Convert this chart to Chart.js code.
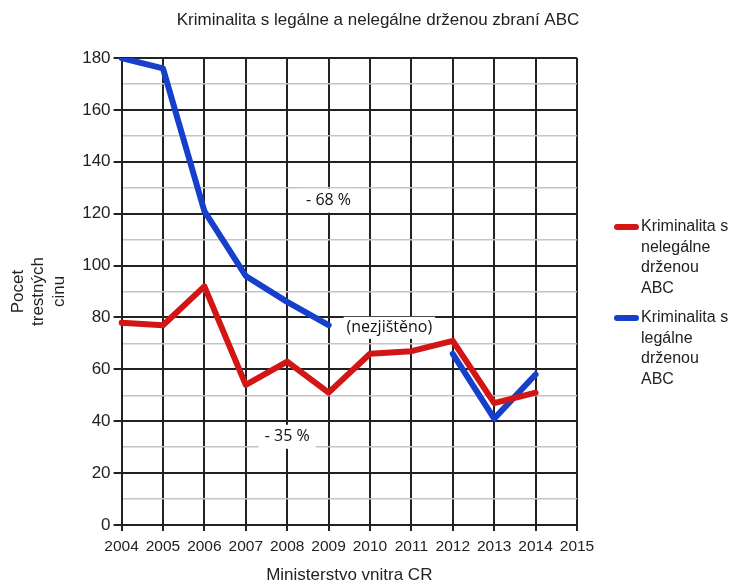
<!DOCTYPE html>
<html>
<head>
<meta charset="utf-8">
<script src="https://cdn.jsdelivr.net/npm/chart.js@4"></script>
<style>
  html, body { margin: 0; padding: 0; background: #fff; }
  #wrap { width: 736px; height: 584px; }
</style>
</head>
<body>
<div id="wrap"><canvas id="chart" width="736" height="584"></canvas></div>
<script>
// Roky na ose x
const years = ['2004', '2005', '2006', '2007', '2008', '2009', '2010', '2011', '2012', '2013', '2014', '2015'];

// Kriminalita s nelegálne drženou ABC
const illegalValues = [78, 77, 92, 54, 63, 51, 66, 67, 71, 47, 51, null];
// Kriminalita s legálne drženou ABC (2010-2011 nezjištěno)
const legalValues = [180, 176, 121, 96, 86, 77, null, null, 66, 41, 58, null];

const seriesNames = [
    ['Kriminalita s', 'nelegálne', 'drženou', 'ABC'],
    ['Kriminalita s', 'legálne', 'drženou', 'ABC']
];
const seriesColors = ['#d21616', '#1640cc'];

const chartTitle = 'Kriminalita s legálne a nelegálne drženou zbraní ABC';

// Popisky v grafu: [text, rok, hodnota]
const notes = [
    ['- 68 %', '2009', 125],
    ['- 35 %', '2008', 34],
];
const missingNote = ['(nezjištěno)', '2009', 76];

const textFont = '"Liberation Sans", Arial, sans-serif';
const noteFont = '"Open Sans", "Noto Sans", sans-serif';

// Nadpis přes celou šířku obrázku
const titlePlugin = {
    id: 'wideTitle',
    afterDraw(chart) {
        const ctx = chart.ctx;
        ctx.save();
        ctx.font = '17px ' + textFont;
        ctx.fillStyle = '#222';
        ctx.textAlign = 'center';
        ctx.textBaseline = 'middle';
        ctx.fillText(chartTitle, 378, 20);
        ctx.restore();
    }
};

// Popisky -68 % a -35 % s bílým pozadím
const notesPlugin = {
    id: 'notes',
    beforeDatasetsDraw(chart) {
        const ctx = chart.ctx;
        const x = chart.scales.x, y = chart.scales.y;
        ctx.save();
        ctx.font = '16px ' + noteFont;
        ctx.textAlign = 'center';
        ctx.textBaseline = 'middle';
        notes.forEach(n => {
            const px = x.getPixelForValue(x.getLabels().indexOf(n[1]));
            const py = y.getPixelForValue(n[2]);
            const w = ctx.measureText(n[0]).width + 12;
            ctx.fillStyle = '#fff';
            ctx.fillRect(px - w / 2, py - 12, w, 24);
            ctx.fillStyle = '#111';
            ctx.fillText(n[0], px, py);
        });
        ctx.restore();
    },
    afterDatasetsDraw(chart) {
        const ctx = chart.ctx;
        const x = chart.scales.x, y = chart.scales.y;
        ctx.save();
        ctx.font = '16px ' + noteFont;
        ctx.textAlign = 'left';
        ctx.textBaseline = 'middle';
        const px = x.getPixelForValue(x.getLabels().indexOf(missingNote[1])) + 18;
        const py = y.getPixelForValue(missingNote[2]);
        const w = ctx.measureText(missingNote[0]).width;
        ctx.fillStyle = '#fff';
        ctx.fillRect(px - 3, py - 11, w + 6, 22);
        ctx.fillStyle = '#111';
        ctx.fillText(missingNote[0], px, py);
        ctx.restore();
    }
};

// Legenda vpravo, víceřádková
const legendPlugin = {
    id: 'sideLegend',
    afterDraw(chart) {
        const ctx = chart.ctx;
        const startY = [227, 318];
        ctx.save();
        ctx.font = '16px ' + textFont;
        ctx.textAlign = 'left';
        ctx.textBaseline = 'middle';
        seriesNames.forEach((lines, i) => {
            ctx.strokeStyle = seriesColors[i];
            ctx.lineWidth = 6;
            ctx.lineCap = 'round';
            ctx.beginPath();
            ctx.moveTo(617, startY[i]);
            ctx.lineTo(636, startY[i]);
            ctx.stroke();
            ctx.fillStyle = '#222';
            lines.forEach((t, j) => ctx.fillText(t, 641, startY[i] + j * 20.5));
        });
        ctx.restore();
    }
};

new Chart(document.getElementById('chart'), {
    type: 'line',
    data: {
        labels: years,
        datasets: [{
            label: seriesNames[0].join(' '),
            data: illegalValues,
            borderColor: seriesColors[0],
            borderWidth: 6,
            borderJoinStyle: 'round',
            borderCapStyle: 'round',
            pointRadius: 0,
            tension: 0,
            spanGaps: false
        }, {
            label: seriesNames[1].join(' '),
            data: legalValues,
            borderColor: seriesColors[1],
            borderWidth: 6,
            borderJoinStyle: 'round',
            borderCapStyle: 'round',
            pointRadius: 0,
            tension: 0,
            spanGaps: false
        }]
    },
    options: {
        responsive: false,
        animation: false,
        layout: { padding: { left: 8, right: 159, top: 58, bottom: -2 } },
        plugins: {
            legend: { display: false },
            tooltip: { enabled: false },
            title: { display: false }
        },
        scales: {
            x: {
                type: 'category',
                offset: false,
                border: { color: '#222', width: 2 },
                grid: {
                    color: '#222',
                    lineWidth: 2,
                    tickLength: 6,
                    tickColor: '#222'
                },
                ticks: {
                    color: '#222',
                    font: { family: textFont, size: 15.5 },
                    maxRotation: 0,
                    autoSkip: false,
                    padding: 6
                },
                title: {
                    display: true,
                    text: 'Ministerstvo vnitra CR',
                    color: '#222',
                    font: { family: textFont, size: 17 },
                    padding: { top: 4, bottom: 0 }
                }
            },
            y: {
                min: 0,
                max: 180,
                border: { color: '#222', width: 2 },
                grid: {
                    color: c => c.tick && c.tick.value % 20 === 0 ? '#222' : '#c4c4c4',
                    lineWidth: c => c.tick && c.tick.value % 20 === 0 ? 2 : 1.5,
                    tickLength: 8,
                    tickColor: c => c.tick && c.tick.value % 20 === 0 ? '#222' : 'rgba(0,0,0,0)'
                },
                ticks: {
                    stepSize: 10,
                    autoSkip: false,
                    color: '#222',
                    font: { family: textFont, size: 17 },
                    padding: 3,
                    callback: v => v % 20 === 0 ? v : ''
                },
                title: {
                    display: true,
                    text: ['Pocet', 'trestných', 'cinu'],
                    color: '#222',
                    font: { family: textFont, size: 17, lineHeight: 1.2 },
                    padding: { top: 0, bottom: 10 }
                }
            }
        }
    },
    plugins: [titlePlugin, notesPlugin, legendPlugin]
});
</script>
</body>
</html>
